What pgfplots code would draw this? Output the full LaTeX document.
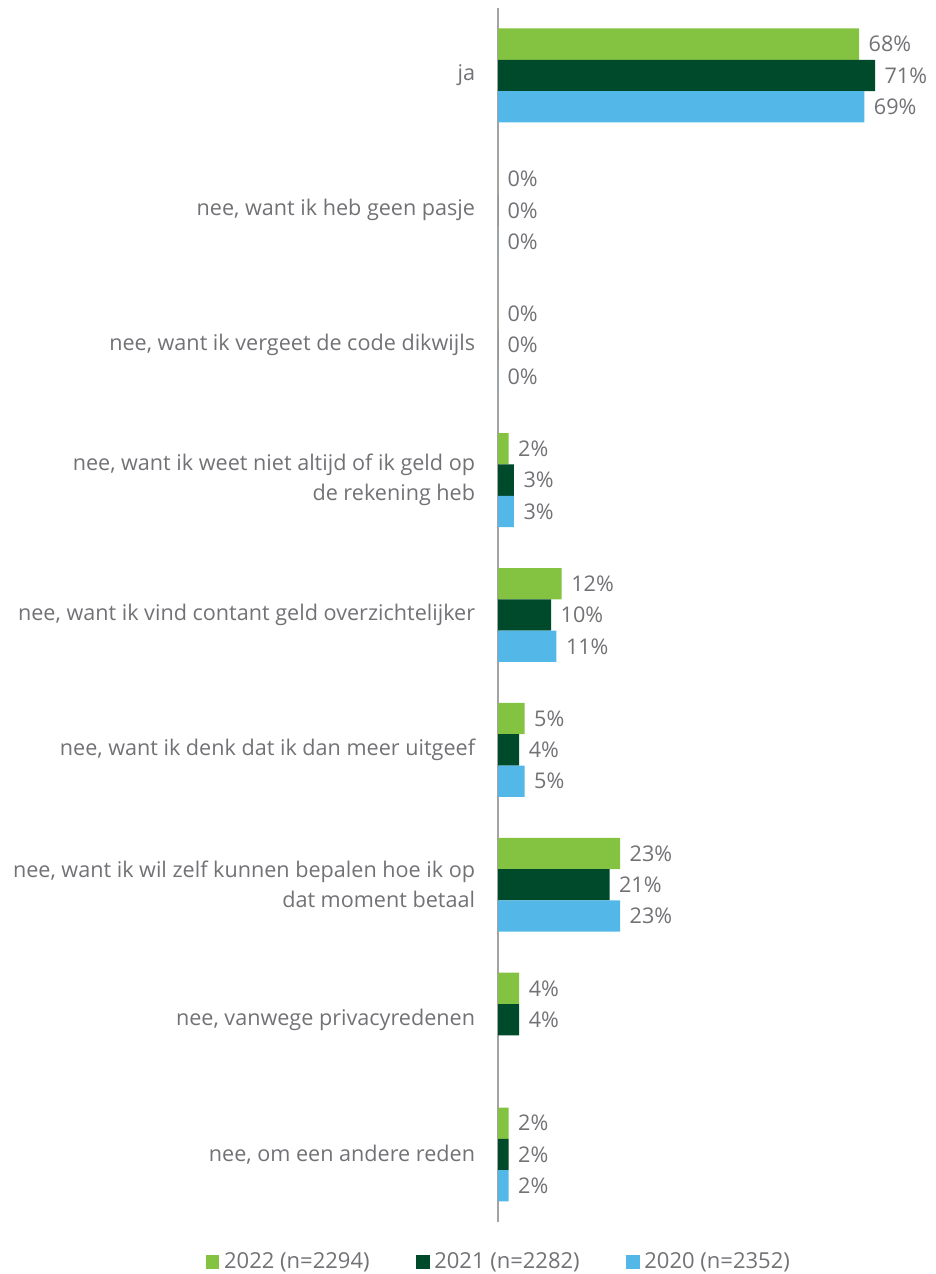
\documentclass[border=0pt]{standalone}
\usepackage{fontspec}
\setmainfont{Open Sans}
\usepackage{pgfplots}
\pgfplotsset{compat=1.18}
\definecolor{cA}{HTML}{84C341}
\definecolor{cB}{HTML}{004A2C}
\definecolor{cC}{HTML}{53B8E8}
\definecolor{txt}{HTML}{727276}
\definecolor{axl}{HTML}{A3A3A3}
\pgfplotsset{sq/.style={legend image code/.code={\fill[##1] (0pt,-5pt) rectangle (10pt,5pt);}}}
\begin{document}
\begin{tikzpicture}
\useasboundingbox (0,0) rectangle (701.25pt,955.5pt);
\begin{axis}[
 at={(373.5pt,39pt)}, anchor=south west,
 scale only axis, width=318.6pt, height=910.5pt,
 xmin=0, xmax=80, ymin=-0.5, ymax=8.5,
 xbar, bar width=0.232,
 axis x line=none, axis y line*=left,
 y axis line style={draw=axl, line width=1pt},
 ytick={0,...,8}, major tick length=0pt,
 yticklabels={
  {nee, om een andere reden},
  {nee, vanwege privacyredenen},
  {nee, want ik wil zelf kunnen bepalen hoe ik op\\dat moment betaal},
  {nee, want ik denk dat ik dan meer uitgeef},
  {nee, want ik vind contant geld overzichtelijker},
  {nee, want ik weet niet altijd of ik geld op\\de rekening heb},
  {nee, want ik vergeet de code dikwijls},
  {nee, want ik heb geen pasje},
  {ja}},
 yticklabel style={anchor=east, inner sep=0pt, xshift=-17pt, align=right, font=\fontsize{16.2}{22.5}\selectfont, text=txt},
 nodes near coords={\pgfmathprintnumber{\pgfplotspointmeta}\%},
 nodes near coords style={anchor=west, inner sep=0pt, xshift=7pt, font=\fontsize{16.2}{19}\selectfont, text=txt},
 /pgf/number format/assume math mode=true,
 legend columns=3,
 legend cell align=left,
 legend style={draw=none, fill=none, at={(0,0)}, anchor=center, yshift=-30pt,
   font=\fontsize{16.5}{19}\selectfont, text=txt,
   nodes={inner sep=0pt},
   /tikz/every odd column/.append style={column sep=3.5pt},
   /tikz/every even column/.append style={column sep=35pt}},
 clip=false,
]
\addplot[fill=cA, draw=none, bar shift=0.232, sq] coordinates {(68,8) (0,7) (0,6) (2,5) (12,4) (5,3) (23,2) (4,1) (2,0)};
\addplot[fill=cB, draw=none, bar shift=0, sq] coordinates {(71,8) (0,7) (0,6) (3,5) (10,4) (4,3) (21,2) (4,1) (2,0)};
\addplot[fill=cC, draw=none, bar shift=-0.232, sq] coordinates {(69,8) (0,7) (0,6) (3,5) (11,4) (5,3) (23,2) (2,0)};
\legend{2022 (n=2294), 2021 (n=2282), 2020 (n=2352)}
\end{axis}
\end{tikzpicture}
\end{document}
